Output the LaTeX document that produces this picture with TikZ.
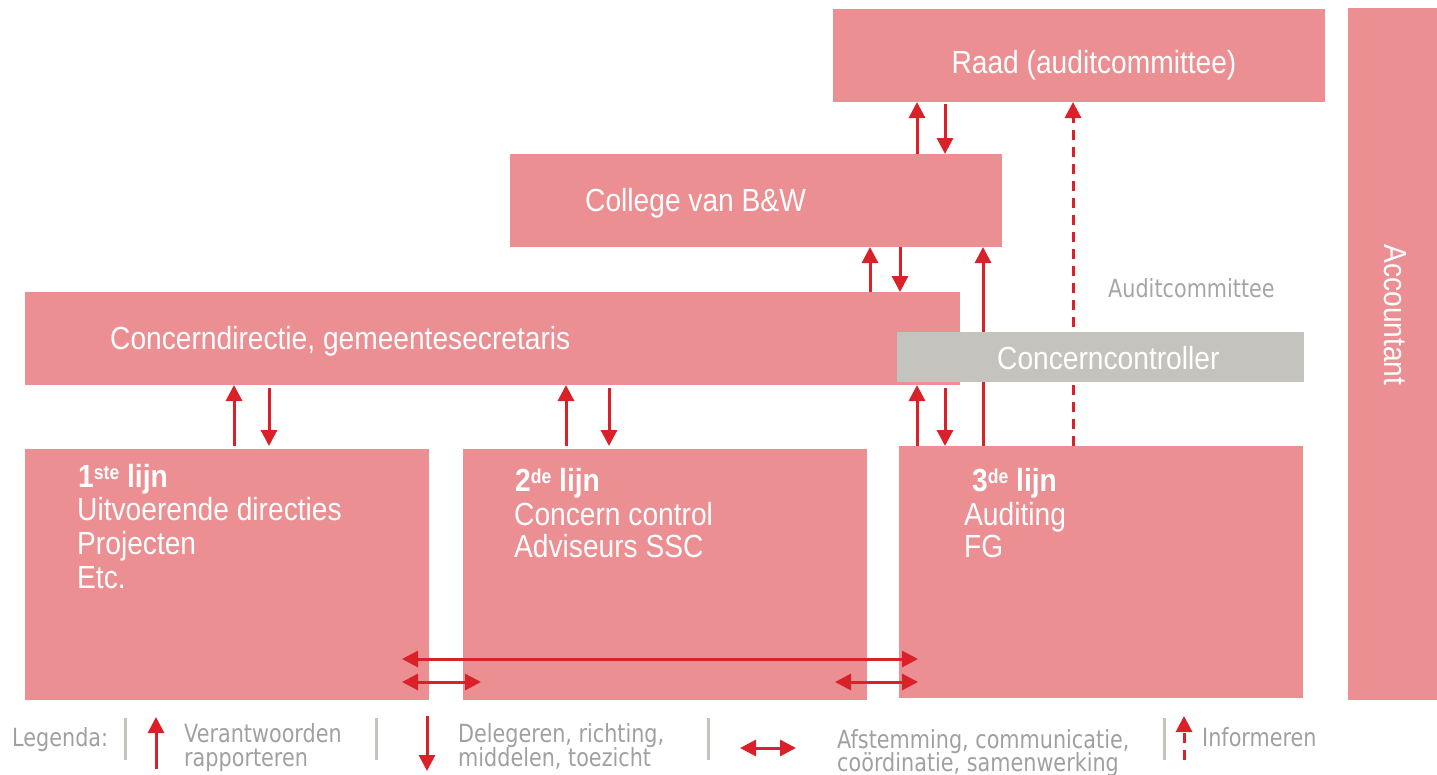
\documentclass[tikz,border=0pt]{standalone}
\usepackage{fontspec}
\setmainfont{Liberation Sans}[FakeStretch=0.88]
\newfontfamily\legf{DejaVu Sans}[FakeStretch=0.83]
\usetikzlibrary{arrows.meta}
\definecolor{pinkbox}{RGB}{235,143,147}
\definecolor{arrred}{RGB}{218,32,40}
\definecolor{graybox}{RGB}{197,195,190}
\definecolor{legtext}{RGB}{160,160,160}
\definecolor{audtext}{RGB}{165,165,165}
\begin{document}
\begin{tikzpicture}[x=1pt,y=-1pt,
  box/.style={fill=pinkbox, draw=none, inner sep=0pt, outer sep=0pt, anchor=north west},
  ccbox/.style={fill=graybox, draw=none, inner sep=0pt, outer sep=0pt, anchor=north west},
  sepbar/.style={fill=graybox, draw=none, inner sep=0pt, minimum width=3pt, minimum height=42pt},
  conn/.style={draw=arrred, line width=3pt, -{Triangle[width=16pt,length=16pt]}},
  dconn/.style={conn, dash pattern=on 10pt off 7pt},
  both/.style={draw=arrred, line width=3pt, {Triangle[width=16pt,length=16pt]}-{Triangle[width=16pt,length=16pt]}},
  txt/.style={text=white, inner sep=0pt, anchor=base west, font=\fontsize{32}{34}\selectfont},
  legt/.style={text=legtext, inner sep=0pt, anchor=base west, font=\legf\fontsize{25}{25}\selectfont},
]
\useasboundingbox (0,0) rectangle (1437,774);

% boxes
\node[box, minimum width=492pt, minimum height=93pt] (raad) at (833,9) {};
\node[box, minimum width=492pt, minimum height=93pt] (college) at (510,154) {};
\node[box, minimum width=935pt, minimum height=93pt] (concern) at (25,292) {};
\node[box, minimum width=404pt, minimum height=251pt] (lijn1) at (25,449) {};
\node[box, minimum width=404pt, minimum height=251pt] (lijn2) at (463,449) {};
\node[box, minimum width=404pt, minimum height=252pt] (lijn3) at (899,446) {};
\node[box, minimum width=89pt, minimum height=692pt] (acc) at (1348,8) {};

% column coordinates
\coordinate (c234) at (234,0);
\coordinate (c269) at (269,0);
\coordinate (c566) at (566,0);
\coordinate (c609) at (609,0);
\coordinate (c870) at (870,0);
\coordinate (c900) at (900,0);
\coordinate (c917) at (917,0);
\coordinate (c945) at (945,0);
\coordinate (c983) at (983,0);
\coordinate (c1073) at (1073,0);

% vertical arrows
\draw[conn] (college.north -| c917) -- (raad.south -| c917);
\draw[conn] ([yshift=-2pt]raad.south -| c945) -- (college.north -| c945);
\draw[conn] (concern.north -| c870) -- (college.south -| c870);
\draw[conn] (college.south -| c900) -- (concern.north -| c900);
\draw[conn] ([yshift=3pt]lijn1.north -| c234) -- (concern.south -| c234);
\draw[conn] ([yshift=-3pt]concern.south -| c269) -- ([yshift=3pt]lijn1.north -| c269);
\draw[conn] ([yshift=3pt]lijn2.north -| c566) -- (concern.south -| c566);
\draw[conn] ([yshift=-3pt]concern.south -| c609) -- ([yshift=3pt]lijn2.north -| c609);
\draw[conn] (lijn3.north -| c917) -- (concern.south -| c917);
\draw[conn] ([yshift=-3pt]concern.south -| c945) -- (lijn3.north -| c945);
\draw[conn] (lijn3.north -| c983) -- (college.south -| c983);
\draw[dconn] (lijn3.north -| c1073) -- (raad.south -| c1073);

% horizontal arrows
\coordinate (h1a) at (402,659);
\coordinate (h1b) at (918,659);
\coordinate (h2a) at (402,682);
\coordinate (h2b) at (481,682);
\coordinate (h3a) at (835,682);
\coordinate (h3b) at (918,682);
\draw[both] (h1a) -- (h1b);
\draw[both] (h2a) -- (h2b);
\draw[both] (h3a) -- (h3b);

% concerncontroller on top
\node[ccbox, minimum width=407pt, minimum height=50pt] (cc) at (897,332) {};

% texts
\node[txt, anchor=base] (traad) at (1094,73) {Raad (auditcommittee)};
\node[txt] (tcollege) at (585,211) {College van B\&W};
\node[txt] (tconcern) at (110,349) {Concerndirectie, gemeentesecretaris};
\node[txt] (tcc) at (997,369) {Concerncontroller};
\node[text=audtext, inner sep=0pt, anchor=base west, font=\legf\fontsize{25}{25}\selectfont] (taud) at (1108,297) {Auditcommittee};
\node[txt, anchor=base, rotate=-90] (tacc) at (1384,315) {Accountant};

\node[txt] (l1a) at (78,487) {\textbf{1\raisebox{8pt}{\fontsize{20}{20}\selectfont ste} lijn}};
\node[txt] (l1b) at (77,520.5) {Uitvoerende directies};
\node[txt] (l1c) at (77,554) {Projecten};
\node[txt] (l1d) at (77,588) {Etc.};

\node[txt] (l2a) at (515,491) {\textbf{2\raisebox{8pt}{\fontsize{20}{20}\selectfont de} lijn}};
\node[txt] (l2b) at (514,525) {Concern control};
\node[txt] (l2c) at (514,557.5) {Adviseurs SSC};

\node[txt] (l3a) at (972,491) {\textbf{3\raisebox{8pt}{\fontsize{20}{20}\selectfont de} lijn}};
\node[txt] (l3b) at (964,525) {Auditing};
\node[txt] (l3c) at (964,557.5) {FG};

% legend
\node[legt] (leg) at (12,746) {Legenda:};
\node[sepbar] (s1) at (125,739) {};
\node[sepbar] (s2) at (376,739) {};
\node[sepbar] (s3) at (708,739) {};
\node[sepbar] (s4) at (1164,739) {};

\coordinate (lu1) at (156,769);
\coordinate (lu2) at (156,717);
\draw[conn] (lu1) -- (lu2);
\node[legt] (lv1) at (184,742) {Verantwoorden};
\node[legt] (lv2) at (184,766.5) {rapporteren};

\coordinate (ld1) at (427,716);
\coordinate (ld2) at (427,771);
\draw[conn] (ld1) -- (ld2);
\node[legt] (ldg1) at (458,742) {Delegeren, richting,};
\node[legt] (ldg2) at (458,766.5) {middelen, toezicht};

\coordinate (lb1) at (740,748);
\coordinate (lb2) at (796,748);
\draw[both] (lb1) -- (lb2);
\node[legt] (la1) at (837,748.5) {Afstemming, communicatie,};
\node[legt] (la2) at (837,771) {coördinatie, samenwerking};

\coordinate (li1) at (1184,760);
\coordinate (li2) at (1184,716);
\draw[dconn] (li1) -- (li2);
\node[legt] (linf) at (1202,746) {Informeren};
\end{tikzpicture}
\end{document}
